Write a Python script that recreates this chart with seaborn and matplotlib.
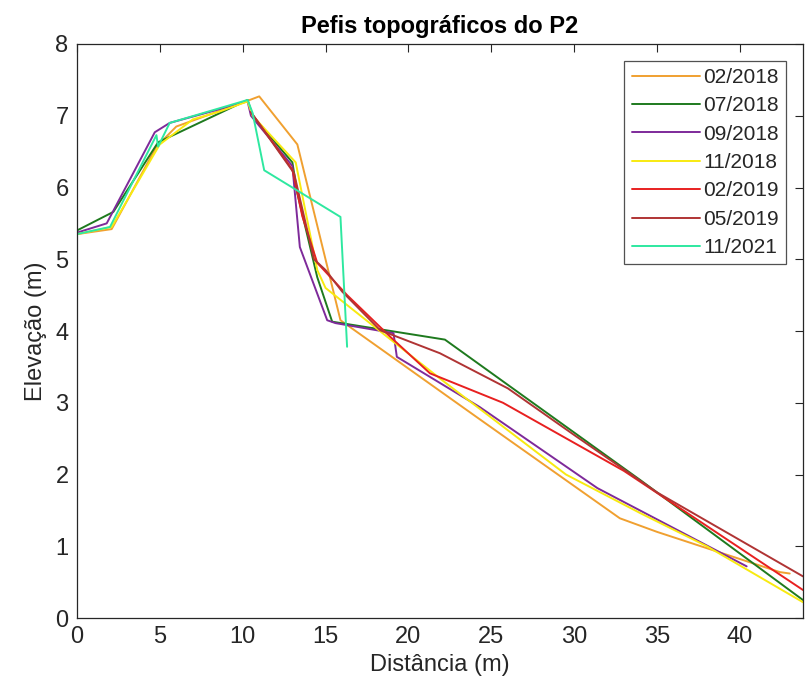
import numpy as np
import pandas as pd
import matplotlib
matplotlib.use("Agg")
import matplotlib.pyplot as plt
import seaborn as sns

# ---- data ----
labels = ["02/2018", "07/2018", "09/2018", "11/2018", "02/2019", "05/2019", "11/2021"]

x_0218 = [0, 2.1, 4.8, 6.0, 10.2, 11.0, 13.3, 15.9, 24.3, 32.75, 35.0, 42.4, 43.0]
y_0218 = [5.35, 5.42, 6.57, 6.85, 7.2, 7.27, 6.6, 4.15, 2.77, 1.39, 1.2, 0.64, 0.62]

x_0718 = [0, 2.2, 4.9, 10.3, 10.6, 13.0, 13.3, 14.5, 15.4, 22.2, 34.0, 43.8]
y_0718 = [5.4, 5.66, 6.63, 7.22, 7.0, 6.35, 5.92, 4.75, 4.13, 3.88, 1.92, 0.25]

x_0918 = [0, 1.8, 4.7, 5.6, 10.3, 10.5, 13.0, 13.45, 15.1, 15.6, 19.1, 19.3, 24.3, 31.4, 40.4]
y_0918 = [5.37, 5.5, 6.77, 6.9, 7.2, 7.0, 6.3, 5.17, 4.15, 4.11, 3.97, 3.64, 2.94, 1.81, 0.72]

x_1118 = [0, 2.1, 5.0, 7.0, 8.5, 10.3, 10.6, 13.2, 14.5, 15.0, 18.0, 22.0, 29.5, 34.0, 38.0, 43.8]
y_1118 = [5.35, 5.45, 6.6, 6.95, 7.05, 7.2, 7.0, 6.35, 4.85, 4.6, 4.05, 3.32, 2.0, 1.46, 1.0, 0.22]

x_0219 = [10.5, 13.0, 13.6, 14.5, 15.3, 16.3, 18.9, 21.3, 25.7, 33.0, 43.8]
y_0219 = [7.05, 6.25, 5.6, 4.95, 4.75, 4.5, 3.92, 3.41, 3.0, 2.05, 0.39]

x_0519 = [10.5, 13.1, 14.3, 15.0, 16.0, 18.3, 21.9, 26.0, 30.0, 35.0, 43.8]
y_0519 = [7.05, 6.2, 5.0, 4.85, 4.55, 4.01, 3.69, 3.2, 2.55, 1.75, 0.58]

x_1121 = [0, 0, 2.0, 4.8, 4.9, 5.6, 10.3, 10.6, 11.3, 15.9, 16.3]
y_1121 = [5.55, 5.35, 5.45, 6.73, 6.57, 6.9, 7.22, 7.04, 6.24, 5.59, 3.78]

xs = [x_0218, x_0718, x_0918, x_1118, x_0219, x_0519, x_1121]
ys = [y_0218, y_0718, y_0918, y_1118, y_0219, y_0519, y_1121]

colors = ["#F0A030", "#1E7A1E", "#7E2A9A", "#F8EA10", "#E82020", "#B03434", "#2EE8A0"]

frames = []
for lab, xv, yv in zip(labels, xs, ys):
    frames.append(pd.DataFrame({"x": xv, "y": yv, "Data": lab, "ord": range(len(xv))}))
df = pd.concat(frames, ignore_index=True)

# ---- style ----
sns.set_style("white")
plt.rcParams["font.family"] = ["Liberation Sans", "DejaVu Sans"]
txt = "#262626"

fig = plt.figure(figsize=(8.09, 6.94), dpi=100)
ax = fig.add_axes([0.095, 0.1095, 0.8976, 0.8271])

sns.lineplot(data=df, x="x", y="y", hue="Data", hue_order=labels,
             palette=dict(zip(labels, colors)), sort=False, estimator=None,
             units="Data", linewidth=1.4, ax=ax)

ax.set_xlim(0, 43.8)
ax.set_ylim(0, 8)
ax.set_xticks(np.arange(0, 45, 5))
ax.set_yticks(np.arange(0, 9, 1))
ax.tick_params(direction="in", top=True, right=True, length=6, width=0.8,
               colors=txt, labelsize=17, pad=6)
for s in ax.spines.values():
    s.set_color(txt)
    s.set_linewidth(0.9)

ax.set_xlabel("Distância (m)", fontsize=17, color=txt, labelpad=4)
ax.set_ylabel("Elevação (m)", fontsize=17, color=txt, labelpad=6)
ax.set_title("Pefis topográficos do P2", fontsize=17, fontweight="bold",
             color="black", pad=8)

leg = ax.legend(loc="upper right", fontsize=15, frameon=True, fancybox=False,
                edgecolor=txt, handlelength=3.3, handletextpad=0.15,
                borderaxespad=0.8, labelspacing=0.45, borderpad=0.35,
                title=None)
leg.get_frame().set_linewidth(0.9)
for t in leg.get_texts():
    t.set_color(txt)

fig.savefig("out.png", dpi=100, facecolor="white")
